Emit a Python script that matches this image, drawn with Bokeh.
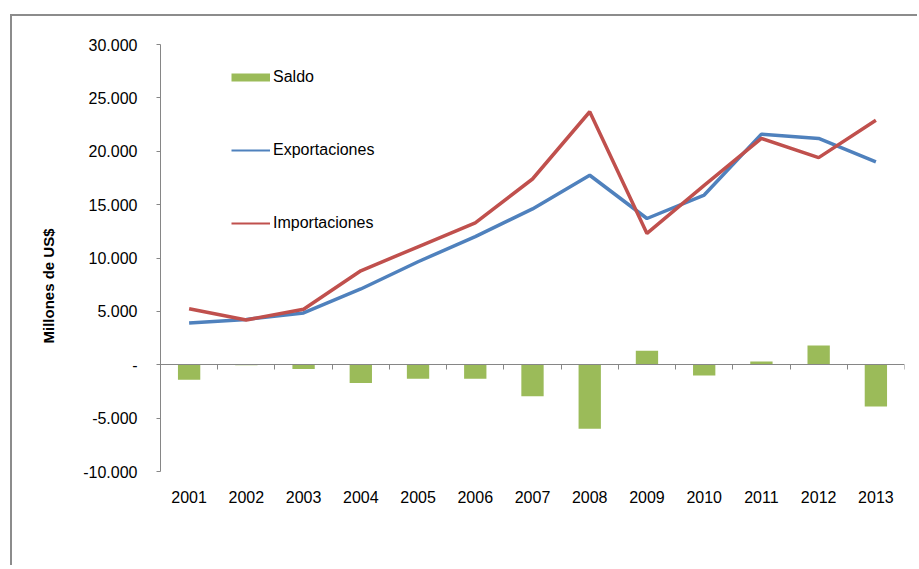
from bokeh.plotting import figure
from bokeh.models import (Range1d, FixedTicker, LinearAxis, Legend, LegendItem,
                          Title, ColumnDataSource)
from bokeh.embed import file_html
from bokeh.resources import INLINE

# ---- data ----
years = ["2001", "2002", "2003", "2004", "2005", "2006", "2007",
         "2008", "2009", "2010", "2011", "2012", "2013"]
exportaciones = [3900, 4250, 4850, 7100, 9650, 12000, 14600,
                 17750, 13700, 15900, 21600, 21200, 19000]
importaciones = [5250, 4200, 5200, 8800, 11050, 13300, 17400,
                 23700, 12300, 16800, 21200, 19400, 22900]
saldo = [-1400, -50, -400, -1700, -1300, -1300, -2950,
         -6000, 1300, -1000, 300, 1800, -3900]
y_ticks = [-10000, -5000, 0, 5000, 10000, 15000, 20000, 25000, 30000]

GREEN = "#9BBB59"
BLUE = "#4F81BD"
RED = "#C0504D"
GRAY = "#868686"
FONT = "Liberation Sans"

idx = list(range(len(years)))
src = ColumnDataSource(dict(x=idx, exp=exportaciones, imp=importaciones, saldo=saldo))

p = figure(width=907, height=551,
           x_range=Range1d(-0.5, len(years) - 0.5),
           y_range=Range1d(y_ticks[0], y_ticks[-1]),
           output_backend="svg", toolbar_location=None,
           min_border_left=148, min_border_right=15,
           min_border_top=28, min_border_bottom=96)
p.margin = (14, 0, 0, 10)
p.styles = {"border-left": "2px solid #8c8c8c", "border-top": "2px solid #8c8c8c"}
p.outline_line_color = None
p.xgrid.visible = False
p.ygrid.visible = False
p.background_fill_color = "white"
p.border_fill_color = "white"

# bars and lines
p.vbar(x="x", top="saldo", bottom=0, width=0.39, source=src,
       fill_color=GREEN, line_color=None)
p.line(x="x", y="exp", source=src, line_color=BLUE, line_width=3.5)
p.line(x="x", y="imp", source=src, line_color=RED, line_width=3.5)

# bottom axis with year labels
xa = p.xaxis[0]
xa.ticker = FixedTicker(ticks=idx)
xa.major_label_overrides = {i: y for i, y in zip(idx, years)}
xa.axis_line_color = None
xa.major_tick_line_color = None
xa.minor_tick_line_color = None
xa.major_label_standoff = 13
xa.major_label_text_font = FONT
xa.major_label_text_font_size = "16px"
xa.major_label_text_color = "black"

# axis line at zero with ticks between categories
bounds = [i - 0.5 for i in range(len(years) + 1)]
za = LinearAxis(fixed_location=0, ticker=FixedTicker(ticks=bounds))
za.major_label_overrides = {b: "" for b in bounds}
za.axis_line_color = GRAY
za.major_tick_line_color = GRAY
za.major_tick_out = 5
za.major_tick_in = 0
za.minor_tick_line_color = None
p.add_layout(za, "below")

# y axis
ya = p.yaxis[0]
ya.ticker = FixedTicker(ticks=y_ticks)
ya.major_label_overrides = {v: ("-" if v == 0 else f"{v:,}".replace(",", ".")) for v in y_ticks}
ya.axis_line_color = GRAY
ya.major_tick_line_color = GRAY
ya.major_tick_out = 4
ya.major_tick_in = 0
ya.minor_tick_line_color = None
ya.major_label_standoff = 19
ya.major_label_text_font = FONT
ya.major_label_text_font_size = "16px"
ya.major_label_text_color = "black"

# y title as a side title (vertical, reading upwards)
p.add_layout(Title(text="Millones de US$", align="left", offset=128,
                   standoff=48, text_font=FONT, text_font_style="bold",
                   text_font_size="15px", text_color="black"), "left")

# legend (proxy renderers, nothing visible in the plot)
nan = float("nan")
proxy = ColumnDataSource(dict(x=[nan], y=[nan]))
r_s = p.line(x="x", y="y", source=proxy, line_color=GREEN, line_width=8, line_cap="butt")
r_e = p.line(x="x", y="y", source=proxy, line_color=BLUE, line_width=2)
r_i = p.line(x="x", y="y", source=proxy, line_color=RED, line_width=2)
legend = Legend(items=[LegendItem(label="Saldo", renderers=[r_s]),
                       LegendItem(label="Exportaciones", renderers=[r_e]),
                       LegendItem(label="Importaciones", renderers=[r_i])],
                location=(71, 238), orientation="vertical",
                glyph_width=39, glyph_height=20, label_height=20,
                spacing=53, padding=0, margin=0,
                border_line_color=None, background_fill_alpha=0,
                label_standoff=3, label_text_font=FONT,
                label_text_font_size="16px", label_text_color="black")
p.add_layout(legend, "center")

open("out.html", "w").write(file_html(p, INLINE))
